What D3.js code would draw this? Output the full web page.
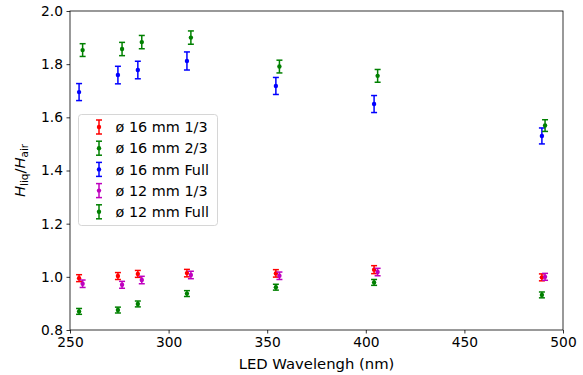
<!DOCTYPE html>
<html><head><meta charset="utf-8">
<script src="https://cdn.jsdelivr.net/npm/d3@7"></script>
<style>body{margin:0;background:#fff}svg{display:block}text{font-family:"DejaVu Sans",sans-serif}</style>
</head><body><svg id="c" width="583" height="375"></svg>
<script>
const xTicks = [250, 300, 350, 400, 450, 500];
const yTicks = [0.8, 1.0, 1.2, 1.4, 1.6, 1.8, 2.0];
const x16 = [254.6, 274.3, 284.4, 309.3, 354.4, 404.2, 489.3];
const x12 = [256.4, 276.4, 286.4, 311.3, 356.2, 406.0, 490.9];
const red16third = [0.995, 1.003, 1.011, 1.014, 1.013, 1.027, 0.998];
const green16twoThird = [0.870, 0.875, 0.898, 0.937, 0.961, 0.979, 0.932];
const blue16full = [1.695, 1.759, 1.778, 1.812, 1.718, 1.650, 1.530];
const mag12third = [0.974, 0.970, 0.988, 1.007, 1.004, 1.018, 1.000];
const green12full = [1.853, 1.857, 1.883, 1.900, 1.791, 1.756, 1.569];
const err16third = [0.013, 0.013, 0.013, 0.014, 0.014, 0.015, 0.013];
const err16twoThird = [0.011, 0.011, 0.011, 0.011, 0.011, 0.011, 0.011];
const err16full = [0.032, 0.033, 0.033, 0.034, 0.032, 0.032, 0.030];
const err12third = [0.014, 0.013, 0.014, 0.014, 0.014, 0.014, 0.013];
const err12full = [0.024, 0.025, 0.025, 0.025, 0.024, 0.024, 0.022];
const labels = ["ø 16 mm 1/3", "ø 16 mm 2/3", "ø 16 mm Full", "ø 12 mm 1/3", "ø 12 mm Full"];
const colors = ["#ff0000", "#008000", "#0000ff", "#bf00bf", "#008000"];

const series = [
  {x: x16, y: red16third, e: err16third},
  {x: x16, y: green16twoThird, e: err16twoThird},
  {x: x16, y: blue16full, e: err16full},
  {x: x12, y: mag12third, e: err12third},
  {x: x12, y: green12full, e: err12full}
];

const L = 70, R = 563, T = 11, B = 330;
const svg = d3.select("#c");
const xs = d3.scaleLinear().domain([250, 500]).range([L, R]);
const ys = d3.scaleLinear().domain([0.8, 2.0]).range([B, T]);

const fs = 13.8, fsLab = 14.8, fsLeg = 14.4;
const xa = svg.append("g").attr("transform", `translate(0,${B})`)
  .call(d3.axisBottom(xs).tickValues(xTicks).tickFormat(d3.format("d")).tickSize(3.5).tickPadding(3.5));
const ya = svg.append("g").attr("transform", `translate(${L},0)`)
  .call(d3.axisLeft(ys).tickValues(yTicks).tickFormat(d3.format(".1f")).tickSize(3.5).tickPadding(3.5));
[xa, ya].forEach(a => {
  a.selectAll("text").attr("font-size", fs).attr("fill", "#000").style("font-family", "DejaVu Sans");
  a.selectAll("line").attr("stroke", "#000").attr("stroke-width", 0.8);
  a.select(".domain").remove();
});
svg.append("rect").attr("x", L).attr("y", T).attr("width", R - L).attr("height", B - T)
  .attr("fill", "none").attr("stroke", "#000").attr("stroke-width", 0.8);

svg.append("text").attr("x", (L + R) / 2).attr("y", 369).attr("text-anchor", "middle")
  .attr("font-size", fsLab).text("LED Wavelengh (nm)");

const yl = svg.append("text").attr("transform", `translate(25,${(T + B) / 2}) rotate(-90)`)
  .attr("text-anchor", "middle").attr("font-size", fsLab);
yl.append("tspan").attr("font-style", "italic").text("H");
yl.append("tspan").attr("font-size", fsLab * 0.7).attr("dy", 3).text("liq");
yl.append("tspan").attr("dy", -3).text("/");
yl.append("tspan").attr("font-style", "italic").text("H");
yl.append("tspan").attr("font-size", fsLab * 0.7).attr("dy", 3).text("air");

const plot = svg.append("g");
const cap = 3;
series.forEach((s, i) => {
  const g = plot.append("g").attr("stroke", colors[i]).attr("fill", colors[i]);
  s.y.forEach((v, j) => {
    const cx = xs(s.x[j]);
    const y1 = ys(v + s.e[j]), y0 = ys(v - s.e[j]);
    g.append("line").attr("x1", cx).attr("x2", cx).attr("y1", y1).attr("y2", y0).attr("stroke-width", 1.5);
    g.append("line").attr("x1", cx - cap).attr("x2", cx + cap).attr("y1", y1).attr("y2", y1).attr("stroke-width", 1.5);
    g.append("line").attr("x1", cx - cap).attr("x2", cx + cap).attr("y1", y0).attr("y2", y0).attr("stroke-width", 1.5);
    g.append("circle").attr("cx", cx).attr("cy", ys(v)).attr("r", 2.2).attr("stroke", "none");
  });
});

// legend
const lg = svg.append("g");
lg.append("rect").attr("x", 78.5).attr("y", 114.5).attr("width", 139).attr("height", 111)
  .attr("rx", 3).attr("fill", "#fff").attr("fill-opacity", 0.8).attr("stroke", "#cccccc").attr("stroke-width", 0.8);
labels.forEach((t, i) => {
  const cy = 127 + i * 21.2;
  const hx = 99;
  const g = lg.append("g").attr("stroke", colors[i]).attr("fill", colors[i]);
  g.append("line").attr("x1", hx).attr("x2", hx).attr("y1", cy - 7).attr("y2", cy + 7).attr("stroke-width", 1.5);
  g.append("line").attr("x1", hx - cap).attr("x2", hx + cap).attr("y1", cy - 7).attr("y2", cy - 7).attr("stroke-width", 1.5);
  g.append("line").attr("x1", hx - cap).attr("x2", hx + cap).attr("y1", cy + 7).attr("y2", cy + 7).attr("stroke-width", 1.5);
  g.append("circle").attr("cx", hx).attr("cy", cy).attr("r", 2.2).attr("stroke", "none");
  lg.append("text").attr("x", 115.5).attr("y", cy + 5.2).attr("font-size", fsLeg).attr("fill", "#000").text(t);
});
</script></body></html>
